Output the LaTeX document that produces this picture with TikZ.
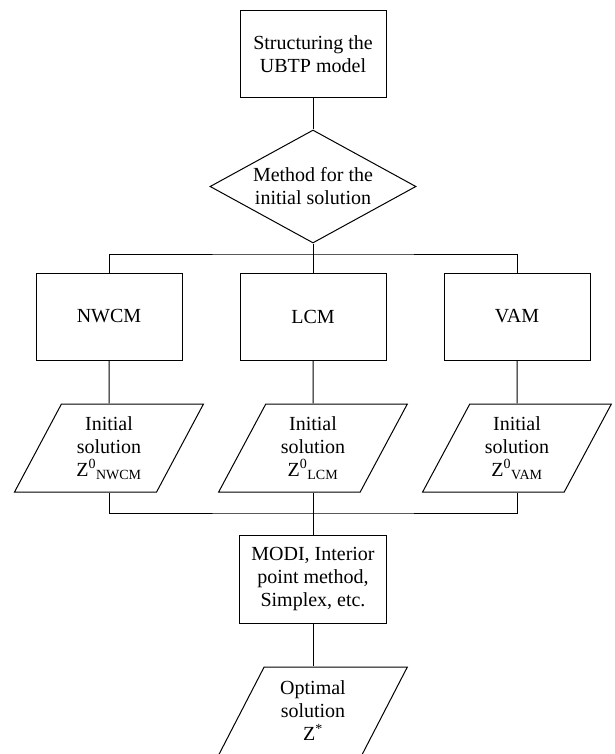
\documentclass[tikz,border=0pt]{standalone}
\usepackage{fontspec}
\setmainfont{Liberation Serif}
\usepackage{tikz}
\usetikzlibrary{shapes.geometric}
\tikzstyle{process} = [rectangle, draw, minimum width=146pt, minimum height=87pt, align=center, inner sep=0pt]
\tikzstyle{decision} = [diamond, draw, minimum width=206pt, minimum height=113pt, shape aspect=1.8, align=center, inner sep=0pt]
\tikzstyle{io} = [trapezium, trapezium left angle=63, trapezium right angle=117, trapezium stretches=true, draw, minimum width=189pt, minimum height=88pt, align=center, inner sep=0pt]

\begin{document}
\begin{tikzpicture}[x=1pt,y=-1pt,line width=1pt,font=\fontsize{20}{23}\selectfont]
	\useasboundingbox (0,0) rectangle (614,754);
	% Steps of the flow, placed at coordinates:
	\node [process]  (model)  at (313,54)    {Structuring the\\UBTP model};
	\node [decision] (method) at (313,186.5) {Method for the\\initial solution};
	\node [process]  (nwcm)   at (109,316.5) {NWCM};
	\node [process]  (lcm)    at (313,316.5) {LCM};
	\node [process]  (vam)    at (517,316.5) {VAM};
	\node [io] (znwcm) at (109,448) {Initial\\solution\\Z\textsuperscript{0}\textsubscript{NWCM}};
	\node [io] (zlcm)  at (313,448) {Initial\\solution\\Z\textsuperscript{0}\textsubscript{LCM}};
	\node [io] (zvam)  at (517,448) {Initial\\solution\\Z\textsuperscript{0}\textsubscript{VAM}};
	\node [process, minimum width=147pt, minimum height=88pt] (modi) at (313,579) {MODI, Interior\\point method,\\Simplex, etc.};
	\node [io] (zopt) at (313,711) {Optimal\\solution\\Z\textsuperscript{*}};
	% Branch and join points:
	\coordinate (split) at (313,254);
	\coordinate (merge) at (313,513);
	% Connectors (plain lines, no tips):
	\draw (model) -- (method);
	\draw (method) -- (split);
	\draw (nwcm.north) |- (split) -| (vam.north);
	\draw (split) -- (lcm);
	\foreach \m/\z in {nwcm/znwcm, lcm/zlcm, vam/zvam}{%
		\draw (\m) -- (\z);
	}
	\draw (znwcm.south) |- (merge) -| (zvam.south);
	\draw (zlcm) -- (merge);
	\draw (merge) -- (modi);
	\draw (modi) -- (zopt);
\end{tikzpicture}
\end{document}
